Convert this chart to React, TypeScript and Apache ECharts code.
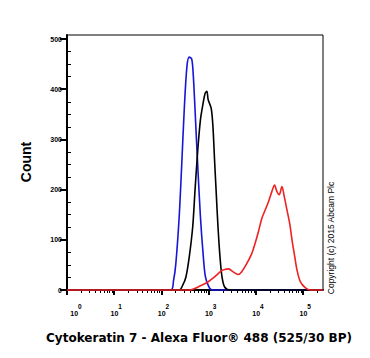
import React, { useEffect, useRef } from "react";
import * as echarts from "echarts";

// Fluorescence intensity (linear units) and event counts
const blueIntensity = [1, 157, 180, 201, 237, 267, 303, 346, 387, 437, 472, 521, 586, 667, 750, 851, 1038, 1227, 262144];
const blueCount = [0, 0, 19, 52, 146, 246, 359, 446, 464, 460, 426, 346, 246, 146, 79, 26, 4, 0, 0];

const blackIntensity = [1, 237, 280, 329, 387, 458, 513, 586, 667, 750, 840, 913, 973, 1128, 1227, 1328, 1443, 1570, 1730, 1911, 2172, 2780, 262144];
const blackCount = [0, 0, 9, 26, 66, 126, 199, 279, 339, 369, 392, 396, 379, 362, 326, 259, 192, 126, 66, 26, 6, 0, 0];

const redIntensity = [1, 387, 689, 959, 1328, 1846, 2172, 2644, 3285, 4204, 4946, 6324, 8091, 9522, 11250, 13240, 15590, 18410, 21670, 24760, 27730, 31050, 35460, 39720, 45370, 51800, 58030, 66250, 74160, 87310, 111700, 142900, 262144];
const redCount = [0, 0, 9, 16, 26, 38, 41, 42, 36, 31, 36, 52, 72, 92, 116, 142, 159, 176, 196, 209, 196, 190, 206, 186, 159, 132, 99, 66, 39, 16, 4, 0, 0];

const xMinValue = 1;
const xMaxValue = 262144;
const xDecades = [0, 1, 2, 3, 4, 5];
const xMinorMultipliers = [2, 3, 4, 5, 6, 7, 8, 9];
const yMajorTicks = [0, 100, 200, 300, 400, 500];
const yMinorTicks = [25, 50, 75, 125, 150, 175, 225, 250, 275, 325, 350, 375, 425, 450, 475];
const yMax = 508;

const xTitle = "Cytokeratin 7 - Alexa Fluor® 488 (525/30 BP)";
const yTitle = "Count";
const copyright = "Copyright (c) 2015 Abcam Plc";

const FONT = "'Liberation Sans', Arial, sans-serif";
const WIDE = "'DejaVu Sans', Verdana, sans-serif";

function toPairs(xs: number[], ys: number[]) {
  return xs.map((x, i) => [Math.log10(x), ys[i]]);
}

export default function App() {
  const ref = useRef<HTMLDivElement>(null);
  useEffect(() => {
    if (!ref.current) return;
    const chart = echarts.init(ref.current, null, { renderer: "svg" });
    const xMin = Math.log10(xMinValue);
    const xMax = Math.log10(xMaxValue);
    const minorX: number[] = [];
    xDecades.forEach((d) => {
      xMinorMultipliers.forEach((m) => {
        const v = Math.log10(m * Math.pow(10, d));
        if (v <= xMax) minorX.push(v);
      });
    });

    const lineSeries = (name: string, xs: number[], ys: number[], color: string) => ({
      name,
      type: "line",
      data: toPairs(xs, ys),
      showSymbol: false,
      smooth: 0.3,
      clip: false,
      lineStyle: { color, width: 1.6 },
      xAxisIndex: 0,
      yAxisIndex: 0,
    });

    chart.setOption({
      animation: false,
      backgroundColor: "#fff",
      grid: {
        left: 67,
        top: 35,
        right: 47,
        bottom: 68,
        show: true,
        borderColor: "#000",
        borderWidth: 1,
        backgroundColor: "transparent",
      },
      xAxis: [
        {
          type: "value",
          min: xMin,
          max: xMax,
          interval: 1,
          position: "bottom",
          axisLine: { show: true, lineStyle: { color: "#000", width: 2 } },
          axisTick: { show: true, customValues: xDecades, length: 5, lineStyle: { color: "#000", width: 2 } },
          axisLabel: {
            customValues: xDecades,
            margin: 13,
            padding: [0, 0, 0, 4],
            align: "center",
            formatter: (v: number) => (v === 0 ? `{b0|10}{s|0}` : `{b|10}{s|${v}}`),
            rich: {
              b: { fontSize: 7, fontWeight: "bold", fontFamily: FONT, color: "#000", lineHeight: 14, verticalAlign: "bottom" },
              b0: { fontSize: 7, fontWeight: "bold", fontFamily: FONT, color: "#000", lineHeight: 14, verticalAlign: "bottom", padding: [0, 0, 0, 14] },
              s: { fontSize: 6.5, fontWeight: "bold", fontFamily: FONT, color: "#000", lineHeight: 6, verticalAlign: "top" },
            },
          },
          splitLine: { show: false },
        },
        {
          type: "value",
          min: xMin,
          max: xMax,
          interval: 1,
          position: "bottom",
          axisLine: { show: false },
          axisTick: { show: true, customValues: minorX, length: 3, lineStyle: { color: "#000", width: 1 } },
          axisLabel: { show: false },
          splitLine: { show: false },
        },
      ],
      yAxis: [
        {
          type: "value",
          min: 0,
          max: yMax,
          interval: 100,
          axisLine: { show: true, lineStyle: { color: "#000", width: 2 } },
          axisTick: { show: true, customValues: yMajorTicks, length: 7, lineStyle: { color: "#000", width: 2 } },
          axisLabel: {
            customValues: yMajorTicks,
            fontSize: 7,
            fontWeight: "bold",
            fontFamily: FONT,
            color: "#000",
            margin: 5,
          },
          splitLine: { show: false },
        },
        {
          type: "value",
          min: 0,
          max: yMax,
          interval: 100,
          axisLine: { show: false },
          axisTick: { show: true, customValues: yMinorTicks, length: 4, lineStyle: { color: "#000", width: 1 } },
          axisLabel: { show: false },
          splitLine: { show: false },
        },
      ],
      series: [
        lineSeries("blue", blueIntensity, blueCount, "#1616d8"),
        lineSeries("black", blackIntensity, blackCount, "#000000"),
        lineSeries("red", redIntensity, redCount, "#ee2222"),
      ],
      graphic: [
        {
          type: "text",
          x: 26,
          y: 162,
          rotation: Math.PI / 2,
          style: {
            text: yTitle,
            font: `bold 14px ${FONT}`,
            fill: "#000",
            textAlign: "center",
            textVerticalAlign: "middle",
          },
        },
        {
          type: "text",
          x: 199,
          y: 338,
          style: {
            text: xTitle,
            font: `bold 12px ${WIDE}`,
            fill: "#000",
            textAlign: "center",
            textVerticalAlign: "middle",
          },
        },
        {
          type: "text",
          x: 331,
          y: 238,
          rotation: Math.PI / 2,
          style: {
            text: copyright,
            font: `8.5px ${FONT}`,
            fill: "#000",
            textAlign: "center",
            textVerticalAlign: "middle",
          },
        },
      ],
    });
    return () => chart.dispose();
  }, []);
  return <div ref={ref} style={{ position: "absolute", left: 0, top: 0, width: 370, height: 358 }} />;
}
